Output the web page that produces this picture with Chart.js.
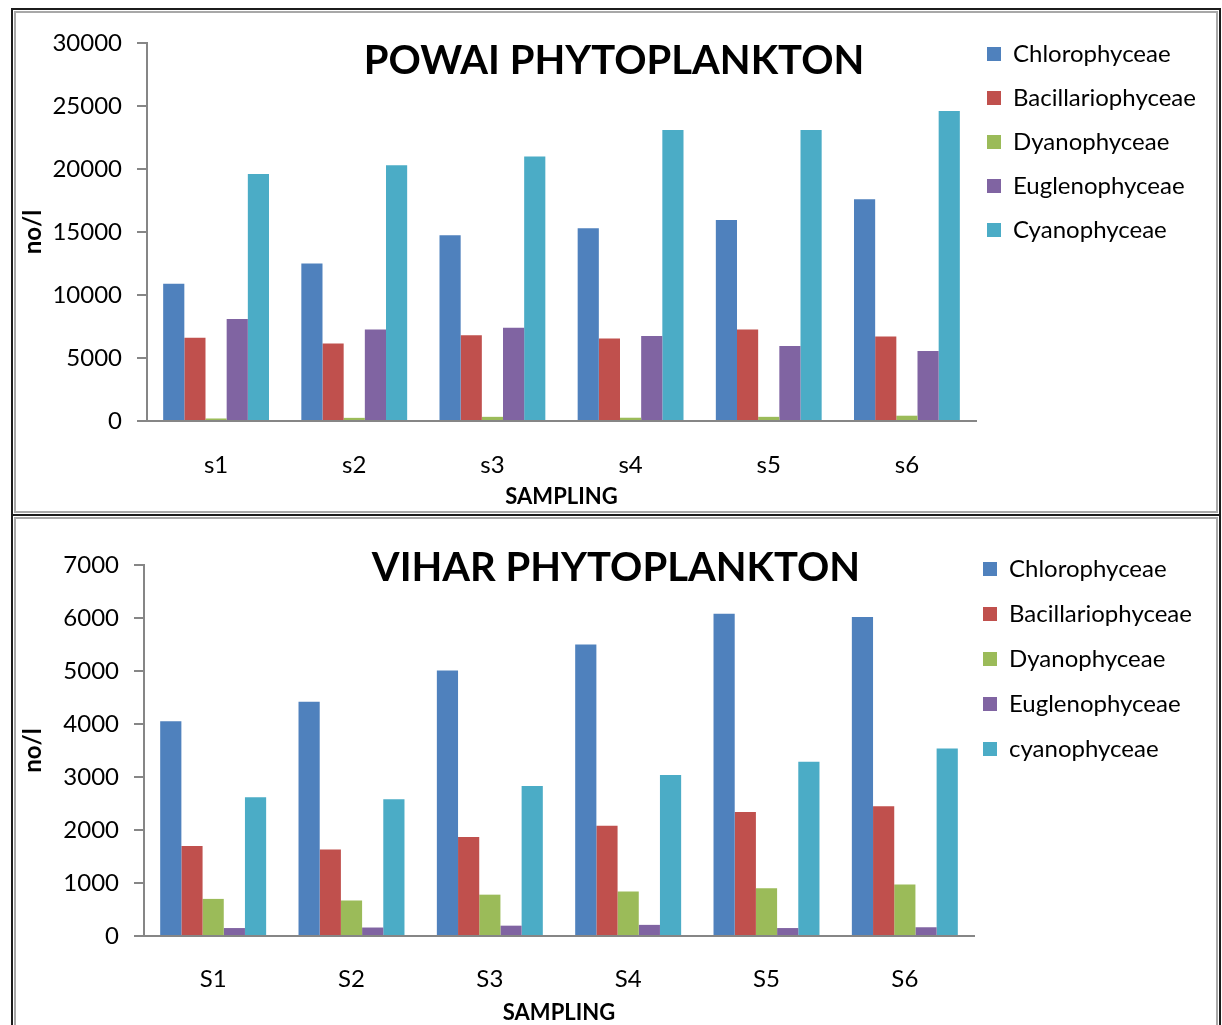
<!DOCTYPE html>
<html>
<head>
<meta charset="utf-8">
<title>Powai and Vihar phytoplankton</title>
<script src="https://cdn.jsdelivr.net/npm/chart.js@4.4.1/dist/chart.umd.min.js"></script>
<style>
  body { margin: 0; background: #fff; }
  .box {
    position: absolute;
    left: 11px;
    width: 1210px;
    box-sizing: border-box;
    border: 2px solid #1c1c1c;
    box-shadow: inset 0 0 0 1px #fff, inset 0 0 0 3px #a8a8a8;
  }
  #box1 { top: 8px; height: 508px; }
  #box2 { top: 514px; height: 522px; }
  canvas { display: block; }
</style>
</head>
<body>
<div class="box" id="box1"><canvas id="powaiChart" width="1206" height="504"></canvas></div>
<div class="box" id="box2"><canvas id="viharChart" width="1206" height="518"></canvas></div>

<script>
// data POWAI
const powaiLabels = ["s1", "s2", "s3", "s4", "s5", "s6"];
const powaiNames = ["Chlorophyceae", "Bacillariophyceae", "Dyanophyceae", "Euglenophyceae", "Cyanophyceae"];
const powaiChloro = [10900, 12500, 14750, 15300, 15950, 17600];
const powaiBacill = [6600, 6150, 6800, 6550, 7270, 6700];
const powaiDyano = [200, 250, 330, 260, 330, 420];
const powaiEugleno = [8100, 7270, 7400, 6750, 5950, 5550];
const powaiCyano = [19600, 20300, 21000, 23100, 23100, 24600];
const powaiTicks = [0, 5000, 10000, 15000, 20000, 25000, 30000];

// data VIHAR
const viharLabels = ["S1", "S2", "S3", "S4", "S5", "S6"];
const viharNames = ["Chlorophyceae", "Bacillariophyceae", "Dyanophyceae", "Euglenophyceae", "cyanophyceae"];
const viharChloro = [4050, 4420, 5010, 5500, 6080, 6020];
const viharBacill = [1700, 1630, 1870, 2080, 2340, 2450];
const viharDyano = [700, 670, 780, 840, 900, 970];
const viharEugleno = [150, 160, 195, 210, 150, 165];
const viharCyano = [2620, 2580, 2830, 3040, 3290, 3540];
const viharTicks = [0, 1000, 2000, 3000, 4000, 5000, 6000, 7000];

const seriesColors = ["#4F81BD", "#C0504D", "#9BBB59", "#8064A2", "#4BACC6"];
const FONT = "Lato";

// big title drawn inside the plot area (like the excel chart)
const bigTitle = {
  id: "bigTitle",
  afterDraw(chart, args, o) {
    const ctx = chart.ctx;
    ctx.save();
    ctx.font = "bold " + o.size + "px " + FONT;
    ctx.fillStyle = "#000";
    ctx.textAlign = "center";
    ctx.textBaseline = "alphabetic";
    ctx.fillText(o.text, o.x, o.y);
    ctx.restore();
  },
};

// move legend a few px left
const legendNudge = {
  id: "legendNudge",
  afterLayout(chart, args, o) {
    if (chart.legend) {
      chart.legend.left += o.dx;
      chart.legend.right += o.dx;
    }
  },
};

function buildChart(id, c) {
  return new Chart(document.getElementById(id), {
    type: "bar",
    data: {
      labels: c.labels,
      datasets: c.series.map((vals, i) => ({
        label: c.names[i],
        data: vals,
        backgroundColor: seriesColors[i],
        borderWidth: 0,
        barPercentage: 1,
        categoryPercentage: 0.766,
      })),
    },
    options: {
      responsive: false,
      animation: false,
      layout: { padding: { top: c.legendTop, right: 0, bottom: 0, left: 0 } },
      plugins: {
        tooltip: { enabled: false },
        legend: {
          position: "right",
          align: "start",
          maxWidth: c.legendWidth,
          labels: {
            boxWidth: 14,
            boxHeight: 14,
            padding: c.legendGap,
            color: "#000",
            font: { family: FONT, size: 24 },
          },
        },
        bigTitle: { text: c.title, x: c.titleX, y: c.titleY, size: 40 },
        legendNudge: { dx: c.legendDx },
      },
      scales: {
        x: {
          grid: { display: false, drawTicks: false },
          border: { color: "#868686", width: 2 },
          ticks: { color: "#000", padding: c.xPad, font: { family: FONT, size: 24 } },
          title: {
            display: true,
            text: "SAMPLING",
            color: "#000",
            font: { family: FONT, size: 22, weight: "bold" },
            padding: { top: 0, bottom: c.xTitlePad },
          },
          afterFit: (s) => { s.height = c.xHeight; },
        },
        y: {
          min: 0,
          max: c.ticks[c.ticks.length - 1],
          afterBuildTicks: (s) => { s.ticks = c.ticks.map((v) => ({ value: v })); },
          grid: { drawOnChartArea: false, tickLength: 10, color: "#868686", lineWidth: 2 },
          border: { color: "#868686", width: 2 },
          ticks: {
            color: "#000",
            padding: 15,
            font: { family: FONT, size: 24 },
            callback: (v) => String(v),
          },
          title: {
            display: true,
            text: "no/l",
            color: "#000",
            font: { family: FONT, size: 24, weight: "bold" },
            padding: { top: 6, bottom: 0 },
          },
          afterFit: (s) => {
            s.width = c.yWidth;
            s.paddingTop = c.areaTop;
            s.paddingRight = c.legendWidth;
          },
        },
      },
    },
    plugins: [bigTitle, legendNudge],
  });
}

function drawAll() {
  buildChart("powaiChart", {
    labels: powaiLabels,
    names: powaiNames,
    series: [powaiChloro, powaiBacill, powaiDyano, powaiEugleno, powaiCyano],
    ticks: powaiTicks,
    title: "POWAI PHYTOPLANKTON",
    titleX: 601, titleY: 64,
    legendTop: 12, legendGap: 20, legendWidth: 243, legendDx: -9,
    yWidth: 134, areaTop: 33, xHeight: 93, xPad: 30, xTitlePad: 4,
  });
  buildChart("viharChart", {
    labels: viharLabels,
    names: viharNames,
    series: [viharChloro, viharBacill, viharDyano, viharEugleno, viharCyano],
    ticks: viharTicks,
    title: "VIHAR PHYTOPLANKTON",
    titleX: 603, titleY: 65,
    legendTop: 20, legendGap: 21, legendWidth: 245, legendDx: -12,
    yWidth: 131, areaTop: 49, xHeight: 98, xPad: 29, xTitlePad: 8,
  });
}

document.addEventListener("DOMContentLoaded", function () {
  Promise.all([
    document.fonts.load("24px Lato"),
    document.fonts.load("bold 24px Lato"),
  ])
    .catch(() => {})
    .then(drawAll);
});
</script>
</body>
</html>
